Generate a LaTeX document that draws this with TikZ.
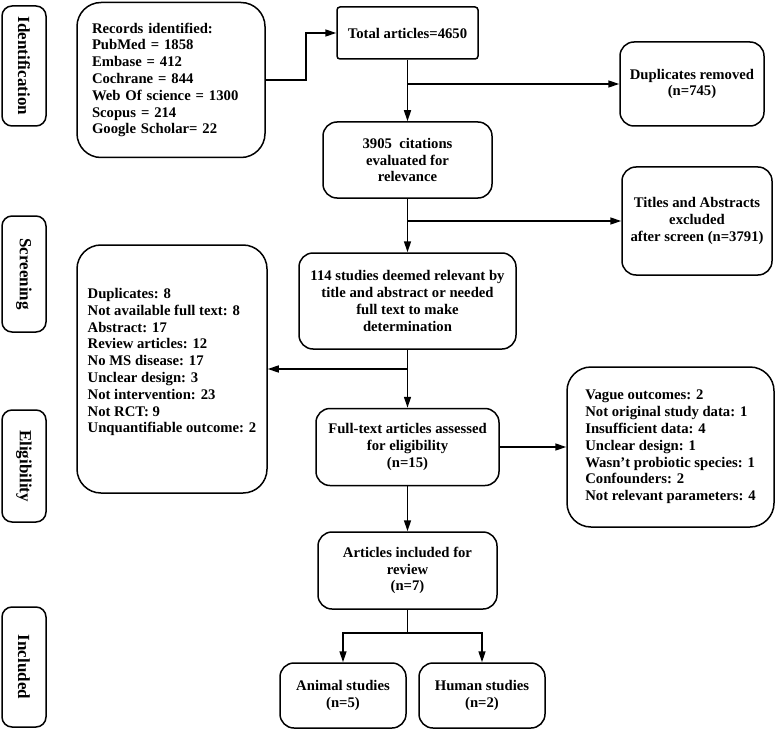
\documentclass[tikz,border=0pt]{standalone}
\usepackage{fontspec}
\setmainfont{Liberation Serif}
\usetikzlibrary{arrows.meta}

\begin{document}
\begin{tikzpicture}[x=1pt, y=-1pt, line width=1.5pt,
    font=\fontsize{14.7}{16.8}\selectfont\bfseries,
    box/.style={draw, rounded corners=14pt, align=center, inner sep=0pt},
    bigbox/.style={box, rounded corners=24pt},
    sidebox/.style={draw, rounded corners=10pt, rotate=-90, minimum height=44pt, inner sep=0pt,
        font=\fontsize{17}{19}\selectfont\bfseries},
    arr/.style={-{Triangle[length=11pt, width=7pt]}}]
%% Fix the page to the size of the original picture (pixel units, y pointing down)
    \useasboundingbox (0,0) rectangle (778,730);
%% The four phase labels on the left side
    \node[sidebox, minimum width=120pt] (lblident) at (24,66) {Identification};
    \node[sidebox, minimum width=116pt] (lblscreen) at (24,274) {Screening};
    \node[sidebox, minimum width=112pt] (lblelig) at (24,466) {Eligibility};
    \node[sidebox, minimum width=120pt] (lblincl) at (24,667) {Included};
%% Identification
    \node[bigbox, minimum width=188pt, minimum height=155pt, text width=158pt, align=left] (records) at (171,80)
        {Records identified:\\ PubMed = 1858\\ Embase = 412\\ Cochrane = 844\\ Web Of science = 1300\\ Scopus = 214\\ Google Scholar= 22};
    \node[box, rounded corners=3pt, minimum width=141pt, minimum height=52pt] (total) at (407.5,33) {Total articles=4650};
    \node[box, minimum width=144pt, minimum height=84pt] (dup) at (692,84) {Duplicates removed\\(n=745)};
%% Screening
    \node[box, minimum width=169pt, minimum height=76pt] (cit) at (407.5,160) {3905~ citations\\evaluated for\\relevance};
    \node[box, minimum width=150pt, minimum height=108pt] (titles) at (697,221) {Titles and Abstracts\\excluded\\after screen (n=3791)};
    \node[box, minimum width=217pt, minimum height=96pt] (rel) at (407.5,301)
        {114 studies deemed relevant by\\title and abstract or needed\\full text to make\\determination};
    \node[bigbox, minimum width=190pt, minimum height=248pt, align=left] (exclone) at (172,369)
        {Duplicates: 8\\ Not available full text: 8\\ Abstract: 17\\ Review articles: 12\\ No MS disease: 17\\ Unclear design: 3\\ Not intervention: 23\\ Not RCT: 9\\ Unquantifiable outcome: 2\\ \mbox{}};
%% Eligibility
    \node[box, minimum width=183pt, minimum height=77pt] (full) at (407.5,447) {Full-text articles assessed\\for eligibility\\(n=15)};
    \node[bigbox, minimum width=207pt, minimum height=160pt, align=left] (excltwo) at (670.5,447)
        {Vague outcomes: 2\\ Not original study data: 1\\ Insufficient data: 4\\ Unclear design: 1\\ Wasn{\char"27}t probiotic species: 1\\ Confounders: 2\\ Not relevant parameters: 4};
%% Included
    \node[box, minimum width=179pt, minimum height=77pt] (review) at (407.5,570.5) {Articles included for\\review\\(n=7)};
    \node[box, minimum width=126pt, minimum height=65pt] (animal) at (343,695.5) {Animal studies\\(n=5)};
    \node[box, minimum width=126pt, minimum height=65pt] (human) at (482,695.5) {Human studies\\(n=2)};
%% Arrows down the middle and out to the side boxes
    \draw[arr] (records.east) -- ++(40,0) |- (total.west);
    \draw[arr] (total) -- (cit);
    \draw[arr] (total.south |- dup) -- (dup);
    \draw[arr] (cit) -- (rel);
    \draw[arr] (cit.south |- titles) -- (titles);
    \draw[arr] (rel) -- (full);
    \draw[arr] (rel.south |- exclone) -- (exclone);
    \draw[arr] (full) -- (excltwo);
    \draw[arr] (full) -- (review);
    \draw (review.south) -- ++(0,23) coordinate (fork);
    \draw[arr] (fork) -| (animal);
    \draw[arr] (fork) -| (human);
\end{tikzpicture}
\end{document}
